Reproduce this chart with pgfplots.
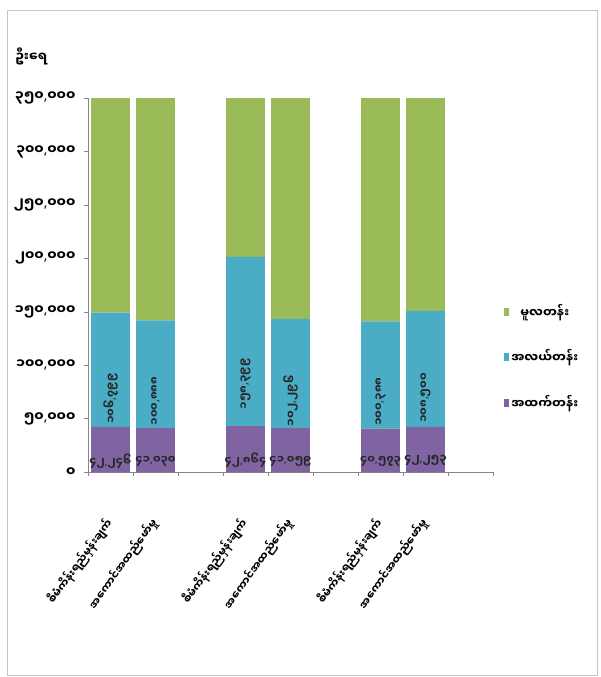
\documentclass[border=0pt]{standalone}
\usepackage{pgfplots}
\pgfplotsset{compat=1.18}
\usepackage{fontspec}
\newfontfamily\my[Script=Myanmar]{Noto Sans Myanmar UI}
\newfontfamily\lat{Noto Sans}
\XeTeXinterchartokenstate=1
\newXeTeXintercharclass\punctclass
\XeTeXcharclass`\,=\punctclass
\XeTeXcharclass`\-=\punctclass
\XeTeXinterchartoks 0 \punctclass = {\lat\bfseries}
\XeTeXinterchartoks \punctclass 0 = {\my\bfseries}
\definecolor{cgreen}{RGB}{155,187,89}
\definecolor{cblue}{RGB}{75,172,198}
\definecolor{cpurple}{RGB}{128,100,162}
\definecolor{axgray}{RGB}{134,134,134}
% values in thousands of persons
\begin{document}
\begin{tikzpicture}
\useasboundingbox (0,0) rectangle (601bp,-677bp);
\draw[gray!45, line width=0.8bp] (7bp,-10bp) rectangle (597bp,-675bp);
\begin{axis}[
  at={(88bp,-472bp)}, anchor=south west,
  width=405bp, height=374bp, scale only axis,
  ybar stacked, bar width=0.86,
  xmin=-0.5, xmax=8.5, ymin=0, ymax=350,
  axis lines*=left, axis line style={-, axgray},
  tick style={axgray}, tick align=outside,
  major tick length=4bp, minor tick length=4bp,
  major x tick style={draw=none},
  minor xtick={-0.5,0.5,...,8.5},
  xtick={0,1,3,4,6,7},
  xticklabels={စီမံကိန်းရည်မှန်းချက်,အကောင်အထည်ဖော်မှု,စီမံကိန်းရည်မှန်းချက်,အကောင်အထည်ဖော်မှု,စီမံကိန်းရည်မှန်းချက်,အကောင်အထည်ဖော်မှု},
  xticklabel style={font=\my\bfseries\fontsize{11}{13}\selectfont, yshift=-44bp, rotate=54, anchor=east, inner sep=1bp},
  ytick={0,50,100,150,200,250,300,350},
  yticklabels={၀,{၅၀,၀၀၀},{၁၀၀,၀၀၀},{၁၅၀,၀၀၀},{၂၀၀,၀၀၀},{၂၅၀,၀၀၀},{၃၀၀,၀၀၀},{၃၅၀,၀၀၀}},
  yticklabel style={font=\my\bfseries\fontsize{13.5}{15}\selectfont, xshift=-5bp},
  ylabel={ဦးရေ},
  ylabel style={rotate=-90, at={(axis description cs:-0.14,1.11)}, anchor=center, font=\my\bfseries\fontsize{13}{15}\selectfont},
  point meta=explicit symbolic,
  nodes near coords,
  visualization depends on=rawy \as \rawy,
  every node near coord/.append style={anchor=center, yshift={-0.268135*\rawy}, font=\my\bfseries\fontsize{11}{13}\selectfont, text=black!85, inner sep=0pt},
  reverse legend,
  legend style={draw=none, fill=none, at={(1.02,0.307)}, anchor=west, font=\my\bfseries\fontsize{12.5}{14}\selectfont, row sep=27bp, /tikz/every even column/.append style={column sep=2bp}},
  legend image code/.code={\fill[#1] (0bp,-4bp) rectangle (5bp,4bp);},
]
\addplot[fill=cpurple, draw=none] coordinates {
  (0,42.246) [၄၂,၂၄၆] (1,41.030) [၄၁,၀၃၀] (3,42.864) [၄၂,၈၆၄]
  (4,41.059) [၄၁,၀၅၉] (6,40.573) [၄၀,၅၇၃] (7,42.253) [၄၂,၂၅၃]};
\addlegendentry{အထက်တန်း}
\addplot[fill=cblue, draw=none, every node near coord/.append style={rotate=90}] coordinates {
  (0,106.799) [၁၀၆,၇၉၉] (1,100.888) [၁၀၀,၈၈၈] (3,158.399) [၁၅၈,၃၉၉]
  (4,102.296) [၁၀၂,၂၉၆] (6,100.388) [၁၀၀,၃၈၈] (7,108.500) [၁၀၈,၅၀၀]};
\addlegendentry{အလယ်တန်း}
\addplot[fill=cgreen, draw=none, nodes near coords={}] coordinates {
  (0,228.177) [၂၂၈,၁၇၇] (1,228.068) [၂၂၈,၀၆၈] (3,207.330) [၂၀၇,၃၃၀]
  (4,223.888) [၂၂၃,၈၈၈] (6,243.649) [၂၄၃,၆၄၉] (7,248.770) [၂၄၈,၇၇၀]};
\addlegendentry{မူလတန်း}
% value labels of the green segments, at the middle of each segment
\node[rotate=90, font=\my\bfseries\fontsize{11}{13}\selectfont, text=black!85, inner sep=0pt] at (axis cs:0,263.13) {၂၂၈,၁၇၇};
\node[rotate=90, font=\my\bfseries\fontsize{11}{13}\selectfont, text=black!85, inner sep=0pt] at (axis cs:1,255.95) {၂၂၈,၀၆၈};
\node[rotate=90, font=\my\bfseries\fontsize{11}{13}\selectfont, text=black!85, inner sep=0pt] at (axis cs:3,304.93) {၂၀၇,၃၃၀};
\node[rotate=90, font=\my\bfseries\fontsize{11}{13}\selectfont, text=black!85, inner sep=0pt] at (axis cs:4,255.30) {၂၂၃,၈၈၈};
\node[rotate=90, font=\my\bfseries\fontsize{11}{13}\selectfont, text=black!85, inner sep=0pt] at (axis cs:6,262.79) {၂၄၃,၆၄၉};
\node[rotate=90, font=\my\bfseries\fontsize{11}{13}\selectfont, text=black!85, inner sep=0pt] at (axis cs:7,275.14) {၂၄၈,၇၇၀};
\node[font=\my\bfseries\fontsize{12.5}{14}\selectfont, anchor=north] at (axis cs:0.5,0) [yshift=-6bp] {၂၀၁၅-၂၀၁၆};
\node[font=\my\bfseries\fontsize{12.5}{14}\selectfont, anchor=north] at (axis cs:3.5,0) [yshift=-6bp] {၂၀၁၆-၂၀၁၇};
\node[font=\my\bfseries\fontsize{12.5}{14}\selectfont, anchor=north] at (axis cs:6.5,0) [yshift=-6bp] {၂၀၁၇-၂၀၁၈};
\end{axis}
\end{tikzpicture}
\end{document}
